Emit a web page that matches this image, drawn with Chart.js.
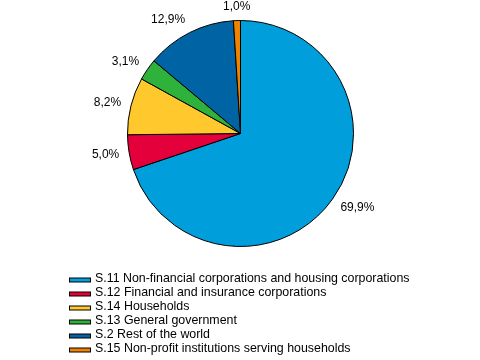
<!DOCTYPE html>
<html>
<head>
<meta charset="utf-8">
<script src="https://cdn.jsdelivr.net/npm/chart.js@4/dist/chart.umd.min.js"></script>
<style>
  html, body { margin: 0; padding: 0; background: #fff; }
  #wrap { width: 480px; height: 360px; position: relative; }
</style>
</head>
<body>
<div id="wrap"><canvas id="pieChart" width="480" height="360"></canvas></div>
<script>
const categories = [
    'S.11 Non-financial corporations and housing corporations',
    'S.12 Financial and insurance corporations',
    'S.14 Households',
    'S.13 General government',
    'S.2 Rest of the world',
    'S.15 Non-profit institutions serving households'
];
const shares = [69.9, 5.0, 8.2, 3.1, 12.9, 1.0];
const sliceColors = ['#009fdb', '#e4003b', '#ffc92e', '#2fb23b', '#0063a3', '#f08200'];

const FONT = '12px "Liberation Sans", Arial, sans-serif';
const LEGEND_FONT = '12.4px "Liberation Sans", Arial, sans-serif';

// percentage labels just outside each slice
const sliceLabels = {
    id: 'sliceLabels',
    afterDatasetsDraw(chart) {
        const ctx = chart.ctx;
        const arcs = chart.getDatasetMeta(0).data;
        ctx.save();
        ctx.font = FONT;
        ctx.fillStyle = '#000';
        ctx.textBaseline = 'middle';
        arcs.forEach((arc, i) => {
            const mid = (arc.startAngle + arc.endAngle) / 2;
            const dx = Math.cos(mid), dy = Math.sin(mid);
            const text = shares[i].toFixed(1).replace('.', ',') + '%';
            if (dx > 0.1) ctx.textAlign = 'left';
            else if (dx < -0.1) ctx.textAlign = 'right';
            else ctx.textAlign = 'center';
            const x = arc.x + dx * (arc.outerRadius + 10);
            const y = arc.y + dy * (arc.outerRadius + 8) + dy * 6;
            ctx.fillText(text, x, y);
        });
        ctx.restore();
    }
};

// vertical legend under the pie
const listLegend = {
    id: 'listLegend',
    afterDraw(chart) {
        const ctx = chart.ctx;
        ctx.save();
        ctx.font = LEGEND_FONT;
        ctx.textBaseline = 'middle';
        ctx.textAlign = 'left';
        categories.forEach((label, i) => {
            const y = 279 + i * 14;
            ctx.fillStyle = sliceColors[i];
            ctx.fillRect(69.5, y - 1, 21, 4);
            ctx.strokeStyle = '#000';
            ctx.lineWidth = 1;
            ctx.strokeRect(69.5, y - 1, 21, 4);
            ctx.fillStyle = '#000';
            ctx.fillText(label, 95, y);
        });
        ctx.restore();
    }
};

new Chart(document.getElementById('pieChart').getContext('2d'), {
    type: 'pie',
    data: {
        labels: categories,
        datasets: [{
            data: shares,
            backgroundColor: sliceColors,
            borderColor: '#000',
            borderWidth: 1,
            borderAlign: 'center'
        }]
    },
    options: {
        responsive: false,
        animation: false,
        layout: { padding: { top: 20, bottom: 113, left: 1, right: 0 } },
        plugins: {
            legend: { display: false },
            tooltip: { enabled: false }
        }
    },
    plugins: [sliceLabels, listLegend]
});
</script>
</body>
</html>
